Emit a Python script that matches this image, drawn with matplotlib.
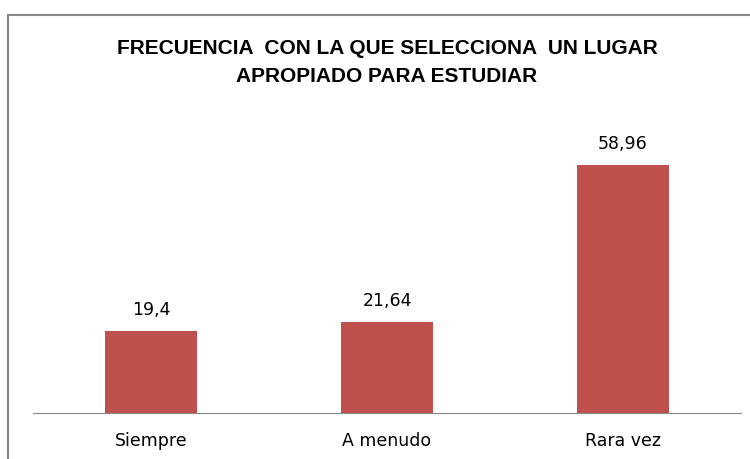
import matplotlib.pyplot as plt
from matplotlib.patches import Rectangle

plt.rcParams['font.family'] = ['DejaVu Sans']

categorias = ['Siempre', 'A menudo', 'Rara vez']
valores = [19.4, 21.64, 58.96]
etiquetas = ['19,4', '21,64', '58,96']

fig = plt.figure(figsize=(7.5, 4.59), dpi=100)

# marco del gráfico (recortado a la derecha y abajo)
fig.patches.append(Rectangle((8 / 750, -0.1), 1.2, 1 - 15 / 459 + 0.1,
                             transform=fig.transFigure, fill=False,
                             edgecolor='#868686', linewidth=1.5))

ax = fig.add_axes([33 / 750, 1 - 413 / 459, (741 - 33) / 750, (413 - 118) / 459])
x = range(len(categorias))
ax.bar(x, valores, width=0.394, color='#C0504D')
ax.set_xlim(-0.5, 2.5)
ax.set_ylim(0, 70)

for i, v in enumerate(valores):
    ax.text(i, v + 2.8, etiquetas[i], ha='center', va='bottom', fontsize=12.5)

ax.set_xticks(list(x))
ax.set_xticklabels(categorias, fontsize=12.5)
ax.tick_params(axis='x', length=0, pad=14)
ax.set_yticks([])
for s in ['top', 'right', 'left']:
    ax.spines[s].set_visible(False)
ax.spines['bottom'].set_color('#868686')

fig.text(387 / 750, 1 - 62 / 459, 'FRECUENCIA  CON LA QUE SELECCIONA  UN LUGAR\nAPROPIADO PARA ESTUDIAR',
         ha='center', va='center', fontsize=15, fontweight='bold', linespacing=1.6,
         family=['Liberation Sans', 'DejaVu Sans'])

fig.savefig('out.png', dpi=100)
